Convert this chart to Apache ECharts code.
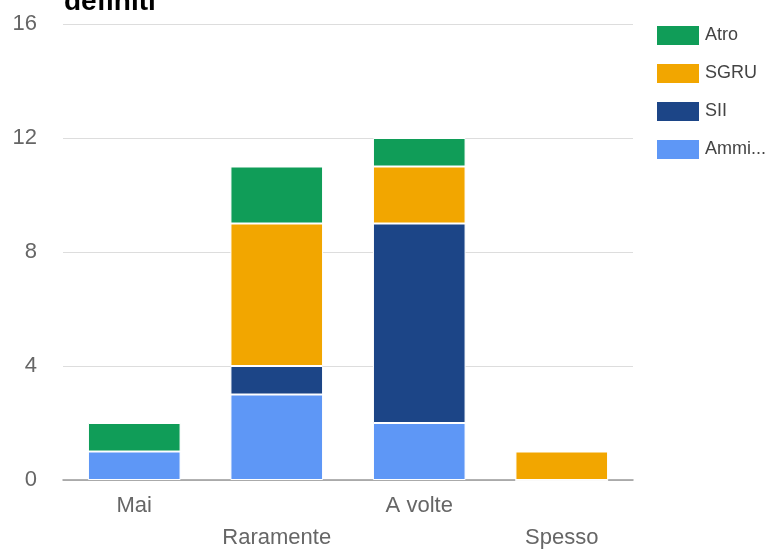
<!DOCTYPE html>
<html>
<head>
<meta charset="utf-8">
<script src="https://cdn.jsdelivr.net/npm/echarts@6/dist/echarts.min.js"></script>
<style>
  html, body { margin: 0; padding: 0; background: #fff; }
  #chart { width: 778px; height: 551px; }
</style>
</head>
<body>
<div id="chart"></div>
<script>
var categories = ["Mai", "Raramente", "A volte", "Spesso"];
var ammi = [1, 3, 2, 0];
var sii = [0, 1, 7, 0];
var sgru = [0, 5, 2, 1];
var atro = [1, 2, 1, 0];
var legendOrder = ["Atro", "SGRU", "SII", "Ammi..."];

var myChart = echarts.init(document.getElementById("chart"));
var font = "'Liberation Sans', Arial, sans-serif";

function bar(name, data, color) {
  return {
    name: name,
    type: "bar",
    stack: "tot",
    barWidth: "65%",
    data: data,
    itemStyle: { color: color, borderColor: "#fff", borderWidth: 1 }
  };
}

var option = {
  animation: false,
  graphic: [{
    type: "text",
    left: 64,
    top: -12,
    style: { text: "definiti", fontSize: 28, fontWeight: "bold", fill: "#000", fontFamily: font }
  }],
  grid: { left: 63, right: 145, top: 24, bottom: 71, outerBoundsMode: "none" },
  legend: {
    orient: "vertical",
    left: 655,
    top: 24,
    padding: 0,
    itemWidth: 44,
    itemHeight: 21,
    itemGap: 15,
    icon: "rect",
    data: legendOrder,
    textStyle: { color: "#444", fontSize: 18, fontFamily: font }
  },
  xAxis: {
    type: "category",
    data: categories,
    axisTick: { show: false },
    axisLine: { lineStyle: { color: "#999", width: 1.5 } },
    axisLabel: {
      color: "#666",
      fontSize: 22,
      fontFamily: font,
      interval: 0,
      margin: 10,
      lineHeight: 32,
      formatter: function (v, i) { return i % 2 ? "\n" + v : v; }
    }
  },
  yAxis: {
    type: "value",
    min: 0,
    max: 16,
    interval: 4,
    axisLine: { show: false },
    axisTick: { show: false },
    splitLine: { lineStyle: { color: "#ddd" } },
    axisLabel: { color: "#666", fontSize: 22, fontFamily: font, margin: 26 }
  },
  series: [
    bar("Ammi...", ammi, "#5e97f6"),
    bar("SII", sii, "#1c4587"),
    bar("SGRU", sgru, "#f2a600"),
    bar("Atro", atro, "#109d58")
  ]
};
myChart.setOption(option, true);
</script>
</body>
</html>
